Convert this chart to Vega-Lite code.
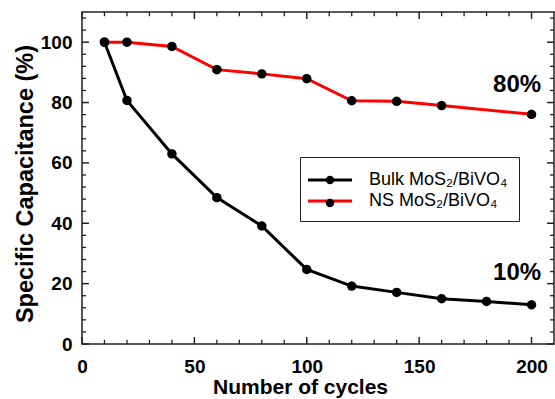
{
  "$schema": "https://vega.github.io/schema/vega-lite/v6.json",
  "width": 472,
  "height": 332,
  "autosize": {"type": "none"},
  "padding": {"left": 82, "top": 12, "right": 1, "bottom": 55},
  "background": "white",
  "config": {
    "view": {"stroke": "#222222", "strokeWidth": 1.5},
    "font": "Liberation Sans",
    "axis": {
      "grid": false,
      "domain": false,
      "ticks": false,
      "tickSize": 0,
      "labelFont": "Liberation Sans",
      "labelFontWeight": "bold",
      "labelFontSize": 19,
      "labelColor": "black",
      "labelOverlap": false,
      "labelFlush": false,
      "titleFont": "Liberation Sans",
      "titleFontWeight": "bold",
      "titleColor": "black"
    }
  },
  "datasets": {
    "cap": [
      {"cycles": 10, "capacitance": 100, "series": "Bulk MoS₂/BiVO₄"},
      {"cycles": 20, "capacitance": 80.7, "series": "Bulk MoS₂/BiVO₄"},
      {"cycles": 40, "capacitance": 63.0, "series": "Bulk MoS₂/BiVO₄"},
      {"cycles": 60, "capacitance": 48.5, "series": "Bulk MoS₂/BiVO₄"},
      {"cycles": 80, "capacitance": 39.1, "series": "Bulk MoS₂/BiVO₄"},
      {"cycles": 100, "capacitance": 24.7, "series": "Bulk MoS₂/BiVO₄"},
      {"cycles": 120, "capacitance": 19.2, "series": "Bulk MoS₂/BiVO₄"},
      {"cycles": 140, "capacitance": 17.1, "series": "Bulk MoS₂/BiVO₄"},
      {"cycles": 160, "capacitance": 15.0, "series": "Bulk MoS₂/BiVO₄"},
      {"cycles": 180, "capacitance": 14.1, "series": "Bulk MoS₂/BiVO₄"},
      {"cycles": 200, "capacitance": 13.0, "series": "Bulk MoS₂/BiVO₄"},
      {"cycles": 10, "capacitance": 100, "series": "NS MoS₂/BiVO₄"},
      {"cycles": 20, "capacitance": 100, "series": "NS MoS₂/BiVO₄"},
      {"cycles": 40, "capacitance": 98.6, "series": "NS MoS₂/BiVO₄"},
      {"cycles": 60, "capacitance": 90.9, "series": "NS MoS₂/BiVO₄"},
      {"cycles": 80, "capacitance": 89.5, "series": "NS MoS₂/BiVO₄"},
      {"cycles": 100, "capacitance": 87.9, "series": "NS MoS₂/BiVO₄"},
      {"cycles": 120, "capacitance": 80.6, "series": "NS MoS₂/BiVO₄"},
      {"cycles": 140, "capacitance": 80.4, "series": "NS MoS₂/BiVO₄"},
      {"cycles": 160, "capacitance": 79.0, "series": "NS MoS₂/BiVO₄"},
      {"cycles": 200, "capacitance": 76.1, "series": "NS MoS₂/BiVO₄"}
    ],
    "notes": [
      {"cycles": 193.6, "capacitance": 85.7, "label": "80%"},
      {"cycles": 193.6, "capacitance": 23.4, "label": "10%"}
    ],
    "xmajor": [{"cycles": 0}, {"cycles": 50}, {"cycles": 100}, {"cycles": 150}, {"cycles": 200}],
    "xminor": [{"cycles": 10}, {"cycles": 20}, {"cycles": 30}, {"cycles": 40}, {"cycles": 60}, {"cycles": 70}, {"cycles": 80}, {"cycles": 90}, {"cycles": 110}, {"cycles": 120}, {"cycles": 130}, {"cycles": 140}, {"cycles": 160}, {"cycles": 170}, {"cycles": 180}, {"cycles": 190}],
    "ymajor": [{"capacitance": 0}, {"capacitance": 20}, {"capacitance": 40}, {"capacitance": 60}, {"capacitance": 80}, {"capacitance": 100}],
    "yminor": [{"capacitance": 4}, {"capacitance": 8}, {"capacitance": 12}, {"capacitance": 16}, {"capacitance": 24}, {"capacitance": 28}, {"capacitance": 32}, {"capacitance": 36}, {"capacitance": 44}, {"capacitance": 48}, {"capacitance": 52}, {"capacitance": 56}, {"capacitance": 64}, {"capacitance": 68}, {"capacitance": 72}, {"capacitance": 76}, {"capacitance": 84}, {"capacitance": 88}, {"capacitance": 92}, {"capacitance": 96}, {"capacitance": 104}, {"capacitance": 108}]
  },
  "resolve": {"axis": {"x": "independent", "y": "independent"}},
  "layer": [
    {
      "data": {"name": "xmajor"},
      "mark": {"type": "rule", "strokeWidth": 1.5, "color": "#222222"},
      "encoding": {
        "x": {"field": "cycles", "type": "quantitative", "scale": {"domain": [0, 210], "nice": false, "zero": false}, "axis": null},
        "y": {"datum": 0, "type": "quantitative", "scale": {"domain": [0, 110], "nice": false, "zero": false}, "axis": null},
        "y2": {"datum": 2.3}
      }
    },
    {
      "data": {"name": "xmajor"},
      "mark": {"type": "rule", "strokeWidth": 1.5, "color": "#222222"},
      "encoding": {
        "x": {"field": "cycles", "type": "quantitative", "scale": {"domain": [0, 210], "nice": false, "zero": false}, "axis": null},
        "y": {"datum": 110, "type": "quantitative", "scale": {"domain": [0, 110], "nice": false, "zero": false}, "axis": null},
        "y2": {"datum": 107.7}
      }
    },
    {
      "data": {"name": "xminor"},
      "mark": {"type": "rule", "strokeWidth": 1.3, "color": "#222222"},
      "encoding": {
        "x": {"field": "cycles", "type": "quantitative", "scale": {"domain": [0, 210], "nice": false, "zero": false}, "axis": null},
        "y": {"datum": 0, "type": "quantitative", "scale": {"domain": [0, 110], "nice": false, "zero": false}, "axis": null},
        "y2": {"datum": 1.4}
      }
    },
    {
      "data": {"name": "xminor"},
      "mark": {"type": "rule", "strokeWidth": 1.3, "color": "#222222"},
      "encoding": {
        "x": {"field": "cycles", "type": "quantitative", "scale": {"domain": [0, 210], "nice": false, "zero": false}, "axis": null},
        "y": {"datum": 110, "type": "quantitative", "scale": {"domain": [0, 110], "nice": false, "zero": false}, "axis": null},
        "y2": {"datum": 108.6}
      }
    },
    {
      "data": {"name": "ymajor"},
      "mark": {"type": "rule", "strokeWidth": 1.5, "color": "#222222"},
      "encoding": {
        "y": {"field": "capacitance", "type": "quantitative", "scale": {"domain": [0, 110], "nice": false, "zero": false}, "axis": null},
        "x": {"datum": 0, "type": "quantitative", "scale": {"domain": [0, 210], "nice": false, "zero": false}, "axis": null},
        "x2": {"datum": 3.1}
      }
    },
    {
      "data": {"name": "ymajor"},
      "mark": {"type": "rule", "strokeWidth": 1.5, "color": "#222222"},
      "encoding": {
        "y": {"field": "capacitance", "type": "quantitative", "scale": {"domain": [0, 110], "nice": false, "zero": false}, "axis": null},
        "x": {"datum": 210, "type": "quantitative", "scale": {"domain": [0, 210], "nice": false, "zero": false}, "axis": null},
        "x2": {"datum": 206.9}
      }
    },
    {
      "data": {"name": "yminor"},
      "mark": {"type": "rule", "strokeWidth": 1.3, "color": "#222222"},
      "encoding": {
        "y": {"field": "capacitance", "type": "quantitative", "scale": {"domain": [0, 110], "nice": false, "zero": false}, "axis": null},
        "x": {"datum": 0, "type": "quantitative", "scale": {"domain": [0, 210], "nice": false, "zero": false}, "axis": null},
        "x2": {"datum": 1.8}
      }
    },
    {
      "data": {"name": "yminor"},
      "mark": {"type": "rule", "strokeWidth": 1.3, "color": "#222222"},
      "encoding": {
        "y": {"field": "capacitance", "type": "quantitative", "scale": {"domain": [0, 110], "nice": false, "zero": false}, "axis": null},
        "x": {"datum": 210, "type": "quantitative", "scale": {"domain": [0, 210], "nice": false, "zero": false}, "axis": null},
        "x2": {"datum": 208.2}
      }
    },
    {
      "data": {"name": "cap"},
      "mark": {"type": "line", "strokeWidth": 3},
      "encoding": {
        "x": {
          "field": "cycles", "type": "quantitative",
          "scale": {"domain": [0, 210], "nice": false, "zero": false},
          "axis": {
            "orient": "bottom",
            "values": [0, 50, 100, 150, 200],
            "labelPadding": 13,
            "title": "Number of cycles",
            "titleFontSize": 21,
            "titleX": 218,
            "titleY": 49,
            "titleBaseline": "alphabetic"
          }
        },
        "y": {
          "field": "capacitance", "type": "quantitative",
          "scale": {"domain": [0, 110], "nice": false, "zero": false},
          "axis": {
            "orient": "left",
            "values": [0, 20, 40, 60, 80, 100],
            "labelPadding": 10,
            "title": "Specific Capacitance (%)",
            "titleFontSize": 23.5,
            "titleX": -50,
            "titleY": 171.5,
            "titleBaseline": "alphabetic"
          }
        },
        "color": {
          "field": "series", "type": "nominal",
          "scale": {"domain": ["Bulk MoS₂/BiVO₄", "NS MoS₂/BiVO₄"], "range": ["#000000", "#ff0000"]},
          "legend": {
            "orient": "none",
            "legendX": 218,
            "legendY": 145,
            "title": null,
            "padding": 11,
            "rowPadding": 0,
            "symbolType": "M-2.1,0H2.1",
            "symbolSize": 441,
            "symbolStrokeWidth": 3,
            "symbolOffset": 7,
            "labelOffset": 27,
            "labelFont": "Liberation Sans",
            "labelFontSize": 18,
            "labelColor": "black",
            "strokeColor": "#222222",
            "fillColor": "white"
          }
        }
      }
    },
    {
      "data": {"name": "cap"},
      "mark": {"type": "point", "filled": true, "color": "black", "size": 560, "opacity": 1},
      "encoding": {
        "x": {"field": "cycles", "type": "quantitative", "scale": {"domain": [0, 210], "nice": false, "zero": false}, "axis": null},
        "y": {"field": "capacitance", "type": "quantitative", "scale": {"domain": [0, 110], "nice": false, "zero": false}, "axis": null},
        "shape": {
          "field": "series", "type": "nominal",
          "scale": {"range": [
            "M0.4,0L0.3696,0.1531L0.2828,0.2828L0.1531,0.3696L0,0.4L-0.1531,0.3696L-0.2828,0.2828L-0.3696,0.1531L-0.4,0L-0.3696,-0.1531L-0.2828,-0.2828L-0.1531,-0.3696L0,-0.4L0.1531,-0.3696L0.2828,-0.2828L0.3696,-0.1531Z",
            "M0.4,0L0.3696,0.1531L0.2828,0.2828L0.1531,0.3696L0,0.4L-0.1531,0.3696L-0.2828,0.2828L-0.3696,0.1531L-0.4,0L-0.3696,-0.1531L-0.2828,-0.2828L-0.1531,-0.3696L0,-0.4L0.1531,-0.3696L0.2828,-0.2828L0.3696,-0.1531Z"
          ]},
          "legend": {
            "orient": "none",
            "legendX": 218,
            "legendY": 145,
            "title": null,
            "padding": 11,
            "rowPadding": 0,
            "symbolSize": 441,
            "symbolStrokeWidth": 3,
            "symbolStrokeColor": "transparent",
            "symbolFillColor": "black",
            "symbolOpacity": 1,
            "symbolOffset": 7,
            "labelOffset": 27,
            "labelFont": "Liberation Sans",
            "labelFontSize": 18,
            "labelColor": "transparent",
            "zindex": 2
          }
        }
      }
    },
    {
      "data": {"name": "notes"},
      "mark": {"type": "text", "font": "Liberation Sans", "fontSize": 24, "fontWeight": "bold", "color": "black", "align": "center", "baseline": "middle"},
      "encoding": {
        "x": {"field": "cycles", "type": "quantitative", "scale": {"domain": [0, 210], "nice": false, "zero": false}, "axis": null},
        "y": {"field": "capacitance", "type": "quantitative", "scale": {"domain": [0, 110], "nice": false, "zero": false}, "axis": null},
        "text": {"field": "label"}
      }
    }
  ]
}
